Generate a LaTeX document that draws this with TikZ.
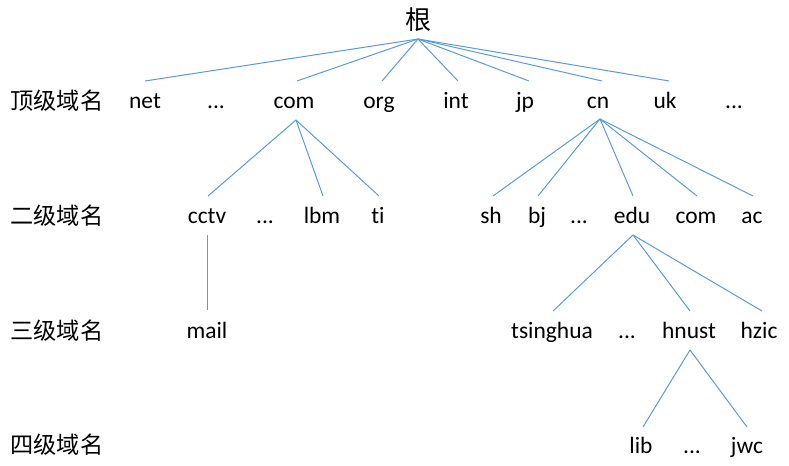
\documentclass[tikz,border=0pt]{standalone}
\usepackage{fontspec}
\setmainfont{Carlito}[Ligatures=NoCommon]
\newfontfamily\cjk{Noto Sans CJK SC}
\definecolor{edgeblue}{RGB}{91,155,213}
\begin{document}
\begin{tikzpicture}[x=0.75pt,y=-0.75pt,
  lbl/.style={inner sep=0pt,anchor=base,font=\fontsize{17.6}{20}\selectfont},
  lvl/.style={inner sep=0pt,anchor=base,font=\cjk\fontsize{17.4}{20}\selectfont},
  rootlbl/.style={inner sep=0pt,anchor=base,font=\cjk\fontsize{19.5}{22}\selectfont},
  edge/.style={draw=edgeblue,line width=0.75pt}]
\useasboundingbox (0,0) rectangle (789,466);
% level labels
\node[lvl] (L1) at (57,110) {顶级域名};
\node[lvl] (L2) at (57,225) {二级域名};
\node[lvl] (L3) at (57,340) {三级域名};
\node[lvl] (L4) at (57,454) {四级域名};
% root
\node[rootlbl] (root) at (418,30) {根};
% row 1
\node[lbl] (net) at (145,109) {net};
\node[lbl] (d1) at (216,109) {...};
\node[lbl] (com) at (294,109) {com};
\node[lbl] (org) at (379,109) {org};
\node[lbl] (int) at (456,109) {int};
\node[lbl] (jp) at (525,109) {jp};
\node[lbl] (cn) at (598,109) {cn};
\node[lbl] (uk) at (665,109) {uk};
\node[lbl] (d2) at (734,109) {...};
% row 2
\node[lbl] (cctv) at (207,224) {cctv};
\node[lbl] (d3) at (265,224) {...};
\node[lbl] (lbm) at (322,224) {lbm};
\node[lbl] (ti) at (378,224) {ti};
\node[lbl] (sh) at (491,224) {sh};
\node[lbl] (bj) at (537,224) {bj};
\node[lbl] (d4) at (579,224) {...};
\node[lbl] (edu) at (632,224) {edu};
\node[lbl] (com2) at (696,224) {com};
\node[lbl] (ac) at (752,224) {ac};
% row 3
\node[lbl] (mail) at (207,339) {mail};
\node[lbl] (tsinghua) at (552,339) {tsinghua};
\node[lbl] (d5) at (627,339) {...};
\node[lbl] (hnust) at (689,339) {hnust};
\node[lbl] (hzic) at (759,339) {hzic};
% row 4
\node[lbl] (lib) at (641,454) {lib};
\node[lbl] (d6) at (692,454) {...};
\node[lbl] (jwc) at (747,454) {jwc};
% connector end points
\coordinate (root-b) at (418,39);
\coordinate (net-t) at (145,81);
\coordinate (com-t) at (297,81);
\coordinate (org-t) at (382,81);
\coordinate (int-t) at (458,81);
\coordinate (jp-t) at (529,81);
\coordinate (cn-t) at (602,81);
\coordinate (uk-t) at (669,81);
\coordinate (com-b) at (296,120);
\coordinate (cn-b) at (600,119);
\coordinate (cctv-t) at (208,196);
\coordinate (lbm-t) at (323,196);
\coordinate (ti-t) at (379,196);
\coordinate (sh-t) at (493,196);
\coordinate (bj-t) at (538,196);
\coordinate (edu-t) at (633,196);
\coordinate (com2-t) at (697,196);
\coordinate (ac-t) at (753,196);
\coordinate (cctv-b) at (207,235);
\coordinate (mail-t) at (207,310);
\coordinate (edu-b) at (633,235);
\coordinate (tsinghua-t) at (553,311);
\coordinate (hnust-t) at (690,311);
\coordinate (hzic-t) at (762,311);
\coordinate (hnust-b) at (690,350);
\coordinate (lib-t) at (643,427);
\coordinate (jwc-t) at (747,427);
% connectors
\foreach \c in {net,com,org,int,jp,cn,uk} \draw[edge] (root-b) -- (\c-t);
\foreach \c in {cctv,lbm,ti} \draw[edge] (com-b) -- (\c-t);
\foreach \c in {sh,bj,edu,com2,ac} \draw[edge] (cn-b) -- (\c-t);
\draw[edge] (cctv-b) -- (mail-t);
\foreach \c in {tsinghua,hnust,hzic} \draw[edge] (edu-b) -- (\c-t);
\foreach \c in {lib,jwc} \draw[edge] (hnust-b) -- (\c-t);
\end{tikzpicture}
\end{document}
